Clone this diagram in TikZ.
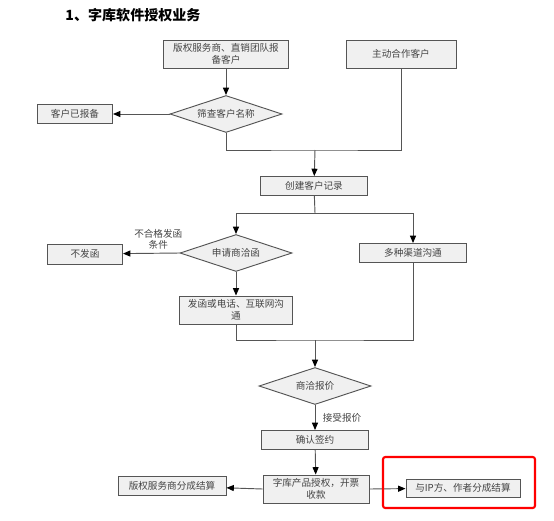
\documentclass[tikz,border=0pt]{standalone}
\usepackage{fontspec}
\usepackage{xcolor}
\usetikzlibrary{shapes.geometric, arrows.meta, positioning, calc}
\newfontfamily\cjk{Noto Sans CJK SC}
\definecolor{boxbg}{HTML}{F0F0F0}
\definecolor{edge}{HTML}{555555}
\definecolor{txt}{HTML}{444444}

\begin{document}
\begin{tikzpicture}[
    x=0.03cm, y=-0.03cm,
    every node/.style={font=\cjk\fontsize{8.2}{10.5}\selectfont, text=txt},
    fr/.style={rectangle, draw=edge, line width=0.8pt, fill=boxbg, align=center,
               inner sep=1pt, minimum height=0.57cm},
    dm/.style={diamond, aspect=3, draw=edge, line width=0.8pt, fill=boxbg, inner sep=0pt,
               minimum width=3.36cm, minimum height=1.11cm},
    ln/.style={draw=edge, line width=0.8pt},
    arr/.style={ln, -{Triangle[length=2.2mm, width=1.8mm, color=black]}}
]
    \useasboundingbox (0,0) rectangle (554,520);
    \node[font=\cjk\bfseries\fontsize{12}{14}\selectfont, text=black] (title) at (133,15) {1、字库软件授权业务};

    % customers
    \node[fr, minimum width=3.75cm, minimum height=0.84cm] (report) at (226,54) {版权服务商、直销团队报\\备客户};
    \node[fr, minimum width=3.3cm, minimum height=0.84cm] (active) at (401,54) {主动合作客户};
    \node[dm] (check) at (226,114) {筛查客户名称};
    \node[fr, minimum width=2.25cm] (done) at (75,114) {客户已报备};
    \node[fr, minimum width=3.21cm] (record) at (314,186) {创建客户记录};

    % contact
    \node[dm] (apply) at (236,253) {申请商洽函};
    \node[fr, minimum width=2.25cm, minimum height=0.6cm] (nosend) at (85,254) {不发函};
    \node[fr, minimum width=3.39cm, minimum height=0.84cm] (letter) at (236,310) {发函或电话、互联网沟\\通};
    \node[fr, minimum width=3.21cm] (multi) at (413,253) {多种渠道沟通};

    % deal
    \node[dm] (quote) at (315,386) {商洽报价};
    \node[fr, minimum width=3.21cm] (sign) at (315,440) {确认签约};
    \node[fr, minimum width=3.18cm, minimum height=0.84cm] (grant) at (316,489) {字库产品授权，开票\\收款};
    \node[fr, minimum width=3.24cm] (split1) at (172,486) {版权服务商分成结算};
    \node[fr, minimum width=3.42cm, minimum height=0.54cm] (split2) at (463,488) {与IP方、作者分成结算};

    \coordinate (j1) at (315,150);
    \coordinate (j2) at (315,213);
    \coordinate (j3) at (315,340);

    \draw[arr] (report) -- (check);
    \draw[arr] (check.west) -- (done);
    \draw[ln] (check.south) |- (j1) -| (active.south);
    \draw[arr] (j1) -- (record);
    \draw[ln] (record) -- (j2);
    \draw[arr] (j2) -| (apply.north);
    \draw[arr] (j2) -| (multi.north);
    \draw[arr] (apply.west) -- node[above, xshift=6pt, align=center, font=\cjk\fontsize{8.2}{9.5}\selectfont]{不合格发函\\条件} (nosend);
    \draw[arr] (apply.south) -- (letter);
    \draw[ln] (letter.south) |- (j3) -| (multi.south);
    \draw[arr] (j3) -- (quote);
    \draw[arr] (quote.south) -- node[right=3pt]{接受报价} (sign);
    \draw[arr] (sign) -- (grant);
    \draw[arr] (grant.west) -- (split1);
    \draw[arr] (grant.east) -- (split2);

    \draw[red, line width=1.8pt, rounded corners=2pt] (383,457) rectangle (535,508);
\end{tikzpicture}
\end{document}
